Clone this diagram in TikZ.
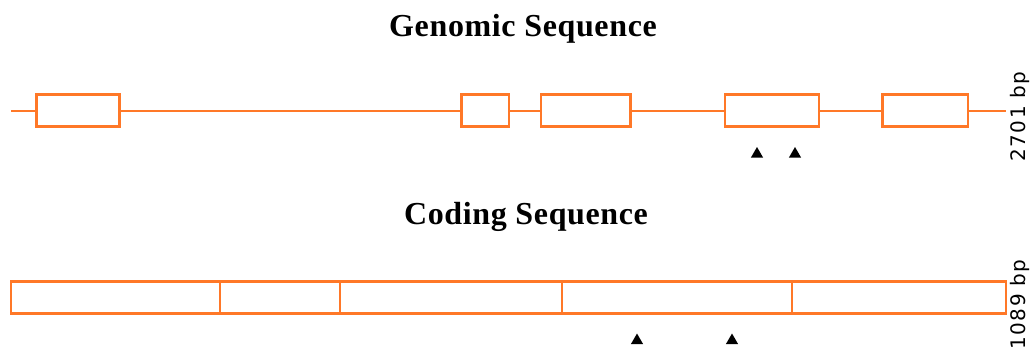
\documentclass[tikz,border=0pt]{standalone}
\usepackage{fontspec}
\newfontfamily\titlefont[LetterSpace=2]{Liberation Serif}
\newfontfamily\labfont[LetterSpace=7]{DejaVu Sans}
\definecolor{exonorange}{RGB}{255,120,40}
\usetikzlibrary{shapes.geometric}
\tikzset{
  exon/.style={draw=exonorange, line width=2.2pt, fill=white, minimum height=32pt, inner sep=0pt, outer sep=0pt},
  seg/.style={draw=exonorange, line width=2.2pt, fill=white, minimum height=32pt, inner sep=0pt, outer sep=0pt},
  intron/.style={draw=exonorange, line width=2.2pt},
  title/.style={font=\titlefont\bfseries\fontsize{32}{36}\selectfont, inner sep=0pt},
  lenlabel/.style={font=\labfont\fontsize{20}{22}\selectfont, rotate=90, inner sep=0pt},
  marker/.style={fill=black, regular polygon, regular polygon sides=3, minimum size=14pt, inner sep=0pt}
}
\begin{document}
\begin{tikzpicture}[x=1pt,y=-1pt]
\useasboundingbox (0,0) rectangle (1035,348);
% titles
\node[title] (gtitle) at (523,29) {Genomic Sequence};
\node[title] (ctitle) at (526,216.5) {Coding Sequence};
% genomic line
\coordinate (gstart) at (11,111);
\coordinate (gend) at (1006,111);
\draw[intron] (gstart) -- (gend);
\node[exon, minimum width=83pt] (e1) at (78,110.5) {};
\node[exon, minimum width=47.5pt] (e2) at (485.25,110.5) {};
\node[exon, minimum width=89.5pt] (e3) at (585.75,110.5) {};
\node[exon, minimum width=94pt] (e4) at (772,110.5) {};
\node[exon, minimum width=85.5pt] (e5) at (925.25,110.5) {};
\node[lenlabel] (glen) at (1020,116.5) {2701 bp};
% markers genomic
\node[marker] (gm1) at (757,154) {};
\node[marker] (gm2) at (795,154) {};
% coding sequence
\node[seg, minimum width=209pt] (c1) at (115.5,297.5) {};
\node[seg, minimum width=120pt] (c2) at (280,297.5) {};
\node[seg, minimum width=222pt] (c3) at (451,297.5) {};
\node[seg, minimum width=230pt] (c4) at (677,297.5) {};
\node[seg, minimum width=214pt] (c5) at (899,297.5) {};
\node[lenlabel] (clen) at (1020,304.5) {1089 bp};
% markers coding
\node[marker] (cm1) at (637,340.5) {};
\node[marker] (cm2) at (732,340.5) {};
\end{tikzpicture}
\end{document}
